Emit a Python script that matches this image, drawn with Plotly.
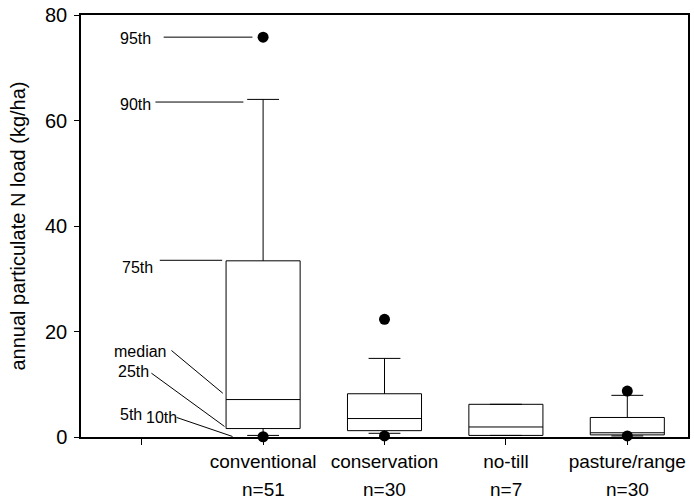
import plotly.graph_objects as go

# Land-use categories (position 0 is an empty slot that holds the key labels)
categories = ["", "conventional", "conservation", "no-till", "pasture/range"]
sample_sizes = ["", "n=51", "n=30", "n=7", "n=30"]

# Box statistics for the four land uses (kg/ha)
box_x = [1, 2, 3, 4]
p10 = [0.3, 0.7, 0.3, 0.2]
p25 = [1.6, 1.2, 0.3, 0.4]
p50 = [7.1, 3.5, 1.9, 0.8]
p75 = [33.4, 8.2, 6.2, 3.7]
p90 = [64.0, 14.9, 6.2, 7.9]

# 5th / 95th percentile points (no-till has too few samples)
dot_x = [1, 1, 2, 2, 4, 4]
dot_y = [0.05, 75.8, 0.2, 22.3, 0.2, 8.7]

FONT = "Liberation Sans, Arial, sans-serif"

fig = go.Figure()

fig.add_trace(go.Box(
    x=box_x, q1=p25, median=p50, q3=p75,
    lowerfence=p10, upperfence=p90,
    width=0.61, whiskerwidth=0.43,
    fillcolor="white", line=dict(color="black", width=1),
    boxpoints=False, hoverinfo="skip", showlegend=False,
))

fig.add_trace(go.Scatter(
    x=dot_x, y=dot_y, mode="markers",
    marker=dict(color="black", size=11),
    cliponaxis=False, hoverinfo="skip", showlegend=False,
))

# Percentile key drawn beside the conventional box
key_labels = [
    ("95th", -0.048, 75.6), ("90th", -0.048, 63.1), ("75th", -0.032, 32.2),
    ("median", -0.018, 16.3), ("25th", -0.065, 12.4),
    ("5th", -0.089, 4.2), ("10th", 0.165, 3.7),
]
for text, x, y in key_labels:
    fig.add_annotation(x=x, y=y, text=text, showarrow=False,
                       font=dict(family=FONT, size=16, color="black"),
                       xanchor="center", yanchor="middle")

key_lines = [
    (0.181, 75.8, 0.912, 75.8),
    (0.113, 63.5, 0.838, 63.5),
    (0.149, 33.5, 0.663, 33.5),
    (0.245, 16.4, 0.668, 8.3),
    (0.080, 12.1, 0.682, 2.0),
    (0.288, 3.7, 0.748, 0.1),
]
for x0, y0, x1, y1 in key_lines:
    fig.add_shape(type="line", x0=x0, y0=y0, x1=x1, y1=y1,
                  xref="x", yref="y", line=dict(color="black", width=1))

# Sample-size line under each category name
for i, n in enumerate(sample_sizes):
    if n:
        fig.add_annotation(x=i, y=-0.124, xref="x", yref="paper", text=n,
                           showarrow=False, yanchor="middle",
                           font=dict(family=FONT, size=19, color="black"))

fig.update_layout(
    width=694, height=502,
    margin=dict(l=81, r=4, t=13, b=65),
    paper_bgcolor="white", plot_bgcolor="white",
    font=dict(family=FONT, color="black"),
    xaxis=dict(
        range=[-0.5, 4.5], tickmode="array",
        tickvals=list(range(len(categories))), ticktext=categories,
        ticks="outside", ticklen=6, tickwidth=1, tickcolor="black",
        showline=True, linewidth=1.5, linecolor="black", mirror=True,
        showgrid=False, zeroline=False,
        tickfont=dict(family=FONT, size=19),
    ),
    yaxis=dict(
        range=[0, 80], tickvals=[0, 20, 40, 60, 80],
        ticks="outside", ticklen=5, tickwidth=1, tickcolor="black",
        showline=True, linewidth=1.5, linecolor="black", mirror=True,
        showgrid=False, zeroline=False,
        tickfont=dict(family=FONT, size=20),
        ticklabelstandoff=3,
        title=dict(text="annual particulate N load (kg/ha)",
                   font=dict(family=FONT, size=20), standoff=14),
    ),
)

fig.write_html("out.html")
